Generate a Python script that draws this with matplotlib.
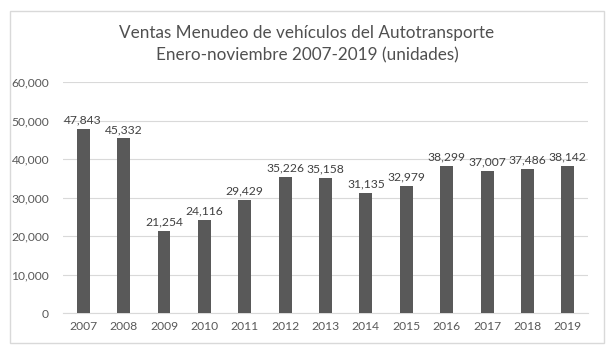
import numpy as np
from matplotlib import pyplot as plt
from matplotlib.patches import Rectangle

years = ['2007', '2008', '2009', '2010', '2011', '2012', '2013',
         '2014', '2015', '2016', '2017', '2018', '2019']
ventas = [47843, 45332, 21254, 24116, 29429, 35226, 35158,
          31135, 32979, 38299, 37007, 37486, 38142]

plt.rcParams['font.family'] = ['Lato', 'DejaVu Sans']

fig = plt.figure(figsize=(6.14, 3.55), dpi=100)
fig.patches.append(Rectangle((10 / 614, 12 / 355), 594 / 614, 332 / 355,
                             transform=fig.transFigure, fill=False,
                             edgecolor='#d9d9d9', linewidth=1))

ax = fig.add_axes([63 / 614, 42 / 355, 525 / 614, 231 / 355])
x = np.arange(len(years))
ax.bar(x, ventas, width=0.32, color='#595959', zorder=3)

for xi, v in zip(x, ventas):
    ax.text(xi, v + 900, f'{v:,}', ha='center', va='bottom',
            fontsize=8.7, color='#404040')

ax.set_xlim(-0.5, len(years) - 0.5)
ax.set_ylim(0, 60000)
ax.set_yticks(np.arange(0, 60001, 10000))
ax.set_yticklabels([f'{t:,}' for t in range(0, 60001, 10000)])
ax.set_xticks(x)
ax.set_xticklabels(years)
ax.tick_params(axis='both', length=0, labelsize=8.7, colors='#595959')
ax.tick_params(axis='y', pad=10)
ax.tick_params(axis='x', pad=6)
ax.grid(axis='y', color='#d9d9d9', linewidth=0.8, zorder=0)
for s in ['top', 'right', 'left']:
    ax.spines[s].set_visible(False)
ax.spines['bottom'].set_color('#d9d9d9')

fig.text(0.5, 1 - 33 / 355, 'Ventas Menudeo de vehículos del Autotransporte',
         ha='center', va='center', fontsize=12.3, color='#505050')
fig.text(0.5, 1 - 55 / 355, 'Enero-noviembre 2007-2019 (unidades)',
         ha='center', va='center', fontsize=12.3, color='#505050')

fig.savefig('out.png', dpi=100)
